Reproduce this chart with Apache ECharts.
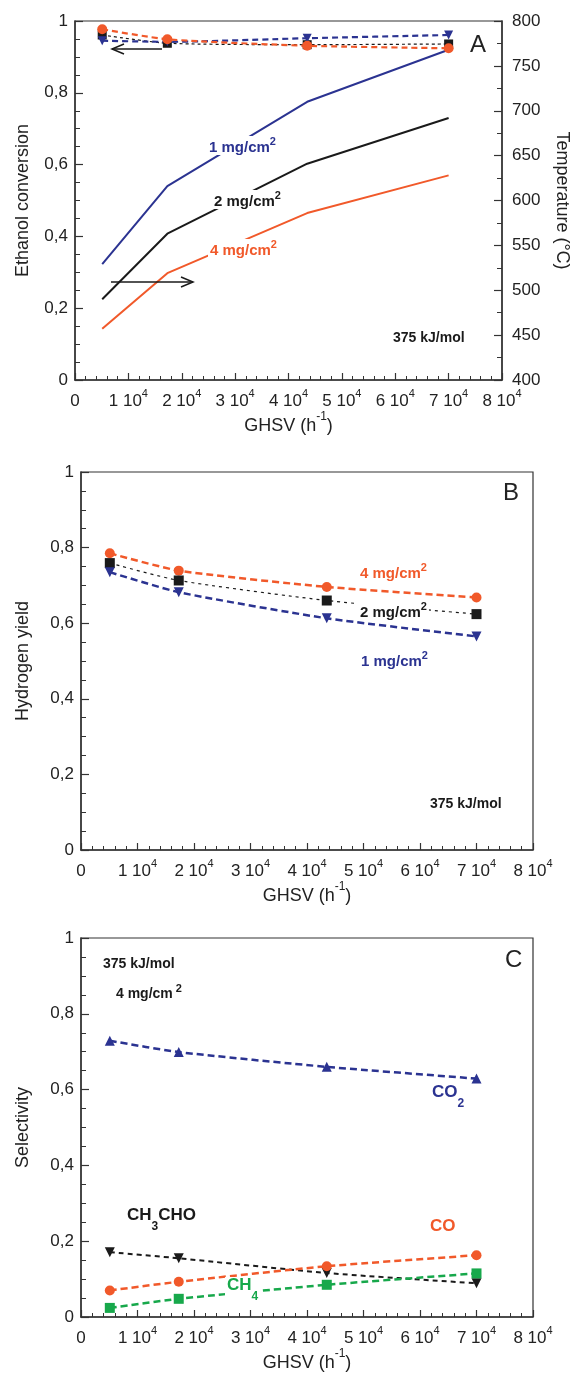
<!DOCTYPE html>
<html>
<head>
<meta charset="utf-8">
<script src="https://cdn.jsdelivr.net/npm/echarts@6/dist/echarts.min.js"></script>
<style>
  html, body { margin: 0; padding: 0; background: #fff; }
  #main { width: 576px; height: 1380px; }
</style>
</head>
<body>
<div id="main"></div>
<script>
// GHSV 点位 (h-1)
var ghsv = [5100, 17300, 43500, 70000];
var xTicks = [0, 10000, 20000, 30000, 40000, 50000, 60000, 70000, 80000];

// A: 乙醇转化率 (左轴)
var convBlue = [0.945, 0.942, 0.952, 0.961];
var convBlack = [0.961, 0.938, 0.934, 0.936];
var convOrange = [0.977, 0.949, 0.931, 0.924];
// A: 温度 (右轴, °C)
var tempBlue = [529, 616, 710, 768];
var tempBlack = [490, 563, 641, 692];
var tempOrange = [457, 519, 586, 628];

// B: 氢气产率
var h2Orange = [0.785, 0.739, 0.696, 0.668];
var h2Black = [0.759, 0.713, 0.660, 0.624];
var h2Blue = [0.735, 0.682, 0.613, 0.565];

// C: 选择性
var selCO2 = [0.729, 0.699, 0.660, 0.629];
var selCH3CHO = [0.171, 0.155, 0.116, 0.089];
var selCO = [0.070, 0.093, 0.134, 0.163];
var selCH4 = [0.024, 0.048, 0.085, 0.115];

var BLUE = '#2b3391';
var ORANGE = '#f1592a';
var BLACK = '#1a1a1a';
var GREEN = '#17a84b';
var AXIS = '#333';
var FONT = 'Liberation Sans';

function pairs(ys) {
    var out = [];
    for (var i = 0; i < ys.length; i++) {
        out.push([ghsv[i], ys[i]]);
    }
    return out;
}

function xAxisOf(gridIndex) {
    return {
        type: 'value', gridIndex: gridIndex,
        min: xTicks[0], max: xTicks[xTicks.length - 1], interval: 10000,
        name: '{n|GHSV (h}{s|-1}{n|)}',
        nameLocation: 'middle', nameGap: 28,
        nameTextStyle: {
            rich: {
                n: { fontFamily: FONT, fontSize: 18, color: '#222', lineHeight: 24, verticalAlign: 'bottom' },
                s: { fontFamily: FONT, fontSize: 12, color: '#222', lineHeight: 12, verticalAlign: 'top' }
            }
        },
        axisLine: { lineStyle: { color: AXIS, width: 1.5 } },
        axisTick: { inside: true, length: 7, lineStyle: { color: AXIS, width: 1.2 } },
        minorTick: { show: true, splitNumber: 5, length: 4, lineStyle: { color: AXIS, width: 1 } },
        splitLine: { show: false },
        axisLabel: {
            margin: 8,
            formatter: function (v) {
                if (v === 0) return '{n|0}';
                return '{n|' + (v / 10000) + ' 10}{s|4}';
            },
            rich: {
                n: { fontFamily: FONT, fontSize: 17, color: '#222', lineHeight: 22, verticalAlign: 'bottom' },
                s: { fontFamily: FONT, fontSize: 11, color: '#222', lineHeight: 11, verticalAlign: 'top' }
            }
        }
    };
}

function fracAxis(gridIndex, name, nameGap) {
    return {
        type: 'value', gridIndex: gridIndex, position: 'left',
        min: 0, max: 1, interval: 0.2,
        name: name, nameLocation: 'middle', nameGap: nameGap,
        nameTextStyle: { fontFamily: FONT, fontSize: 18, color: '#222' },
        axisLine: { show: true, lineStyle: { color: AXIS, width: 1.5 } },
        axisTick: { show: true, inside: true, length: 8, lineStyle: { color: AXIS, width: 1.2 } },
        minorTick: { show: true, splitNumber: 4, length: 5, lineStyle: { color: AXIS, width: 1 } },
        splitLine: { show: false },
        axisLabel: {
            margin: 7, fontFamily: FONT, fontSize: 17, color: '#222',
            formatter: function (v) {
                if (v === 0) return '0';
                if (v === 1) return '1';
                return v.toFixed(1).replace('.', ',');
            }
        }
    };
}

function dashed(name, xi, yi, ys, color, width, dash, symbol, size, rotate) {
    return {
        name: name, type: 'line', xAxisIndex: xi, yAxisIndex: yi,
        data: pairs(ys),
        symbol: symbol, symbolSize: size, symbolRotate: rotate || 0,
        itemStyle: { color: color },
        lineStyle: { color: color, width: width, type: dash },
        smooth: 0.2, z: 3
    };
}

function solid(name, ys, color) {
    return {
        name: name, type: 'line', xAxisIndex: 0, yAxisIndex: 1,
        data: pairs(ys), symbol: 'none',
        lineStyle: { color: color, width: 2 }, z: 2
    };
}

// 带上标的注释文字
function note(x, y, main, sup, color, bold, size) {
    var fs = size || 15;
    var text = '{m|' + main + '}' + (sup ? '{s|' + sup + '}' : '');
    return {
        type: 'text', left: x, top: y, z: 100,
        style: {
            text: text,
            backgroundColor: '#fff',
            padding: [0, 2, 0, 2],
            rich: {
                m: { fontFamily: FONT, fontSize: fs, fontWeight: bold ? 'bold' : 'normal', fill: color, lineHeight: fs + 4, verticalAlign: 'bottom' },
                s: { fontFamily: FONT, fontSize: 11, fontWeight: bold ? 'bold' : 'normal', fill: color, lineHeight: 11, verticalAlign: 'top' }
            }
        }
    };
}

// 带下标的化学式
function subNote(x, y, parts, color) {
    var text = '';
    for (var i = 0; i < parts.length; i++) {
        text += parts[i][1] ? '{d|' + parts[i][0] + '}' : '{m|' + parts[i][0] + '}';
    }
    return {
        type: 'text', left: x, top: y, z: 100,
        style: {
            text: text,
            backgroundColor: '#fff',
            padding: [0, 2, 0, 2],
            rich: {
                m: { fontFamily: FONT, fontSize: 17, fontWeight: 'bold', fill: color, lineHeight: 26, verticalAlign: 'top' },
                d: { fontFamily: FONT, fontSize: 12, fontWeight: 'bold', fill: color, lineHeight: 26, verticalAlign: 'bottom' }
            }
        }
    };
}

function arrow(x1, x2, y) {
    var dir = x2 > x1 ? 1 : -1;
    return [
        { type: 'line', z: 100, shape: { x1: x1, y1: y, x2: x2, y2: y }, style: { stroke: BLACK, lineWidth: 1.5 } },
        { type: 'polyline', z: 100, shape: { points: [[x2 - dir * 12, y - 5], [x2, y], [x2 - dir * 12, y + 5]] }, style: { stroke: BLACK, lineWidth: 1.5, fill: null } }
    ];
}

var myChart = echarts.init(document.getElementById('main'), null, { renderer: 'canvas' });

var graphics = [
    note(207, 136, '1 mg/cm', '2', BLUE, true),
    note(212, 190, '2 mg/cm', '2', BLACK, true),
    note(208, 239, '4 mg/cm', '2', ORANGE, true),
    note(391, 327, '375 kJ/mol', '', BLACK, true, 14),
    { type: 'text', left: 470, top: 33, z: 100, style: { text: 'A', fontFamily: FONT, fontSize: 24, fill: '#222' } },

    note(358, 562, '4 mg/cm', '2', ORANGE, true),
    note(358, 601, '2 mg/cm', '2', BLACK, true),
    note(359, 650, '1 mg/cm', '2', BLUE, true),
    note(428, 793, '375 kJ/mol', '', BLACK, true, 14),
    { type: 'text', left: 503, top: 481, z: 100, style: { text: 'B', fontFamily: FONT, fontSize: 24, fill: '#222' } },

    note(101, 953, '375 kJ/mol', '', BLACK, true, 14),
    note(114, 983, '4 mg/cm', ' 2', BLACK, true, 14),
    subNote(430, 1084, [['CO', false], ['2', true]], BLUE),
    subNote(125, 1207, [['CH', false], ['3', true], ['CHO', false]], BLACK),
    subNote(428, 1218, [['CO', false]], ORANGE),
    subNote(225, 1277, [['CH', false], ['4', true]], GREEN),
    { type: 'text', left: 505, top: 948, z: 100, style: { text: 'C', fontFamily: FONT, fontSize: 24, fill: '#222' } }
];
graphics = graphics.concat(arrow(162, 112, 49), arrow(111, 193, 282));

var option = {
    animation: false,
    backgroundColor: '#fff',
    textStyle: { fontFamily: FONT },
    grid: [
        { left: 75, right: 74, top: 21, height: 359, show: true, borderColor: AXIS, borderWidth: 1.2, outerBoundsMode: 'none', containLabel: false },
        { left: 81, right: 43, top: 472, height: 378, show: true, borderColor: AXIS, borderWidth: 1.2, outerBoundsMode: 'none', containLabel: false },
        { left: 81, right: 43, top: 938, height: 379, show: true, borderColor: AXIS, borderWidth: 1.2, outerBoundsMode: 'none', containLabel: false }
    ],
    xAxis: [xAxisOf(0), xAxisOf(1), xAxisOf(2)],
    yAxis: [
        fracAxis(0, 'Ethanol conversion', 43),
        {
            type: 'value', gridIndex: 0, position: 'right',
            min: 400, max: 800, interval: 50,
            name: 'Temperature (°C)', nameLocation: 'middle', nameGap: 51, nameRotate: -90,
            nameTextStyle: { fontFamily: FONT, fontSize: 18, color: '#222' },
            axisLine: { show: true, lineStyle: { color: AXIS, width: 1.5 } },
            axisTick: { show: true, inside: true, length: 8, lineStyle: { color: AXIS, width: 1.2 } },
            minorTick: { show: true, splitNumber: 2, length: 5, lineStyle: { color: AXIS, width: 1 } },
            splitLine: { show: false },
            axisLabel: { margin: 10, fontFamily: FONT, fontSize: 17, color: '#222' }
        },
        fracAxis(1, 'Hydrogen yield', 49),
        fracAxis(2, 'Selectivity', 49)
    ],
    series: [
        solid('T 1 mg', tempBlue, BLUE),
        solid('T 2 mg', tempBlack, BLACK),
        solid('T 4 mg', tempOrange, ORANGE),
        dashed('X 2 mg', 0, 0, convBlack, BLACK, 1.2, [3, 3], 'rect', 9),
        dashed('X 1 mg', 0, 0, convBlue, BLUE, 2.2, [6, 4], 'triangle', 9, 180),
        dashed('X 4 mg', 0, 0, convOrange, ORANGE, 2.2, [6, 4], 'circle', 10),

        dashed('H2 4 mg', 1, 2, h2Orange, ORANGE, 2.5, [7, 4], 'circle', 10),
        dashed('H2 2 mg', 1, 2, h2Black, BLACK, 1.2, [3, 4], 'rect', 10),
        dashed('H2 1 mg', 1, 2, h2Blue, BLUE, 2.5, [7, 4], 'triangle', 10, 180),

        dashed('CO2', 2, 3, selCO2, BLUE, 2.5, [7, 4], 'triangle', 10),
        dashed('CH3CHO', 2, 3, selCH3CHO, BLACK, 2, [5, 4], 'triangle', 10, 180),
        dashed('CO', 2, 3, selCO, ORANGE, 2.5, [7, 4], 'circle', 10),
        dashed('CH4', 2, 3, selCH4, GREEN, 2.5, [7, 4], 'rect', 10)
    ],
    graphic: graphics
};
myChart.setOption(option);
</script>
</body>
</html>
